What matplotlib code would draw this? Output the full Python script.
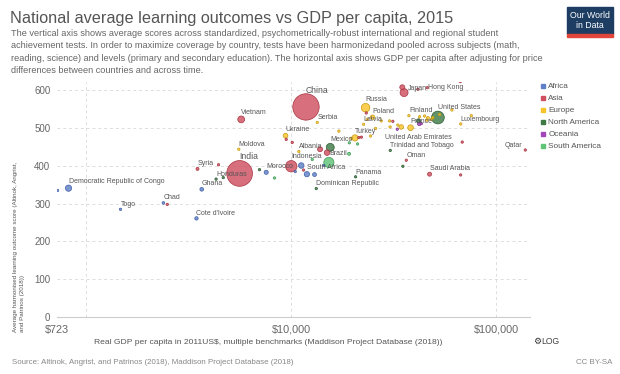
import numpy as np
import matplotlib.pyplot as plt
from matplotlib.patches import Rectangle
from matplotlib.colors import to_rgba

plt.rcParams['font.family'] = ['Liberation Sans', 'DejaVu Sans']

# values (GDP per capita, 2011US$; harmonised score; population, millions)
country = ["China", "India", "United States", "Indonesia", "Brazil", "Russia", "Japan", "Mexico",
           "Vietnam", "Democratic Republic of Congo", "Turkey", "France", "South Africa", "Ukraine",
           "Poland", "Morocco", "Saudi Arabia", "Ghana", "Cote d'Ivoire", "Syria", "Chad",
           "Dominican Republic", "Honduras", "United Arab Emirates", "Serbia", "Togo", "Hong Kong",
           "Finland", "Oman", "Panama", "Moldova", "Albania", "Qatar", "Latvia",
           "Trinidad and Tobago", "Luxembourg",
           "", "", "", "", "", "", "", "", "", "", "", "", "", "", "", "", "", "", "", "", "", "",
           "", "", "", "", "", "", "", "", "", "", "", "", "", "", "", "", "", "", "", "", "", "",
           "", "", "", ""]
region = ["Asia", "Asia", "North America", "Asia", "South America", "Europe", "Asia", "North America",
          "Asia", "Africa", "Europe", "Europe", "Africa", "Europe",
          "Europe", "Africa", "Asia", "Africa", "Africa", "Asia", "Africa",
          "North America", "North America", "Asia", "Europe", "Africa", "Asia",
          "Europe", "Asia", "North America", "Europe", "Europe", "Asia", "Europe",
          "North America", "Europe",
          "Africa", "Asia", "Asia", "North America", "North America", "South America", "Asia", "Asia",
          "South America", "Asia", "Asia", "South America", "South America", "South America",
          "Africa", "Africa", "Africa", "Africa", "Asia", "North America", "Asia", "Asia", "Asia",
          "Asia", "Asia", "Asia", "Asia",
          "Europe", "Europe", "Europe", "Europe", "Europe", "Europe", "Europe", "Europe", "Europe",
          "Europe", "Europe", "Europe", "Europe", "Europe", "Europe", "Europe", "Europe", "Europe",
          "Europe", "North America", "Oceania", "Oceania", "Oceania", "Asia"]
gdp = [11800, 5600, 51900, 10000, 15260, 23040, 35500, 15500,
       5700, 820, 20460, 38190, 11920, 9380,
       24930, 7550, 47270, 3660, 3450, 3490, 2380,
       13240, 4300, 68200, 13390, 1470, 46060,
       37480, 36390, 20600, 5550, 10890, 138500, 22530,
       30400, 67100,
       725, 2485, 4420, 4660, 7000, 8290, 9450, 10110,
       12660, 13820, 14950, 19140, 21060, 19200,
       11190, 12990, 10460, 14420, 11480, 35030, 67000, 34800, 41470,
       66740, 23220, 21370, 22000,
       27480, 30170, 33110, 34400, 42260, 44690, 46380, 45860, 49060,
       48190, 52900, 60740, 75510, 23480, 25780, 24370, 17070, 30340,
       19620, 41780, 42100, 43100, 32890, 31300]
score = [556, 380, 528, 399, 409, 554, 594, 449,
         523, 341, 474, 501, 378, 480,
         529, 383, 378, 338, 261, 392, 302,
         340, 365, 463, 515, 285, 607,
         533, 415, 371, 444, 438, 442, 510,
         441, 511,
         335, 298, 403, 369, 390, 368, 470, 462,
         417, 444, 435, 432, 458, 461,
         401, 377, 385, 401, 389, 399, 376, 608, 603,
         623, 540, 475, 476,
         519, 519, 508, 503, 530, 532, 527, 521, 528,
         523, 536, 548, 533, 523, 499, 479, 492, 503,
         473, 519, 511, 512, 497, 518]
population = [1380, 1310, 320, 258, 205, 144, 127, 125,
              92, 77, 78, 66, 55, 45,
              38, 34, 32, 27, 23, 18, 14,
              10.5, 9, 9, 7, 7, 7,
              5.5, 4, 4, 3.5, 2.9, 2.5, 2,
              1.4, 0.6,
              1, 1, 1, 6, 5, 1, 1, 1,
              3, 50, 60, 18, 3, 1,
              60, 30, 2, 6, 1, 1, 1, 50, 1,
              0.6, 2, 4, 3,
              2, 3, 10, 40, 5, 8, 17, 10, 5,
              9, 1, 5, 0.5, 10, 10, 2, 1, 5,
              1, 36, 24, 4.7, 1, 1]

regions = ["Africa", "Asia", "Europe", "North America", "Oceania", "South America"]
fill = {"Africa": "#5f7fc6", "Asia": "#cf4f61", "Europe": "#f9c42a",
        "North America": "#3f7a45", "Oceania": "#a347b8", "South America": "#5fc476"}
line = {"Africa": "#3e5ea5", "Asia": "#a8343f", "Europe": "#c99a10",
        "North America": "#2b5a30", "Oceania": "#7d2e90", "South America": "#3c9a54"}

W, H, DPI = 620, 374, 100
fig = plt.figure(figsize=(W / DPI, H / DPI), dpi=DPI)
fig.patch.set_facecolor('white')

ax = fig.add_axes([57.3 / W, 1 - 317 / H, (530 - 57.3) / W, (317 - 82) / H])
ax.set_xscale('log')
ax.set_xlim(723, 146000)
ax.set_ylim(0, 622)
for s in ['top', 'right', 'left']:
    ax.spines[s].set_visible(False)
ax.spines['bottom'].set_color('#cccccc')
ax.spines['bottom'].set_linewidth(0.8)

for v in [100, 200, 300, 400, 500, 600]:
    ax.axhline(v, color='#dddddd', lw=0.7, ls=(0, (3, 3)), zorder=0)
for v in [1000, 10000, 100000]:
    ax.axvline(v, color='#dddddd', lw=0.7, ls=(0, (3, 3)), zorder=0)

ax.set_yticks([0, 100, 200, 300, 400, 500, 600])
ax.set_xticks([723, 10000, 100000])
ax.set_xticklabels(['$723', '$10,000', '$100,000'])
ax.xaxis.set_minor_locator(plt.NullLocator())
ax.tick_params(axis='y', length=0, pad=5, labelsize=7, labelcolor='#666666')
ax.tick_params(axis='x', length=0, pad=5.5, labelsize=7.8, labelcolor='#666666')

pop = np.array(population, dtype=float)
radius = np.maximum(1.2, 13.3 * np.sqrt(pop / 1400))
order = np.argsort(-pop, kind='stable')
x = np.array(gdp, dtype=float)[order]
y = np.array(score, dtype=float)[order]
r = radius[order]
reg = [region[i] for i in order]
fc = [to_rgba(fill[g], 0.82) for g in reg]
ec = [line[g] for g in reg]
ax.scatter(x, y, s=(2 * r * 72 / DPI) ** 2, c=fc, edgecolors=ec, linewidths=0.5, zorder=3)

# label placement: above the dot by default, a few are shifted
special = {"United Arab Emirates": (-77, 5, 'left'), "Qatar": (-3, 5, 'right'),
           "Japan": (4, 4, 'left'), "Hong Kong": (1, 0, 'left')}
for i, name in enumerate(country):
    if not name:
        continue
    big = name in ("China", "India")
    if name in special:
        dx, dy, ha = special[name]
    else:
        dx, dy, ha = 0, radius[i] + 3.6, 'left'
    ax.annotate(name, (gdp[i], score[i]), xytext=(dx, dy), textcoords='offset pixels',
                ha=ha, va='center', fontsize=6.2 if big else 5, color='#555555', zorder=4)

# legend
for k, g in enumerate(regions):
    yy = 86.3 + 12 * k
    fig.patches.append(Rectangle((540.5 / W, 1 - (yy + 2) / H), 4 / W, 4 / H,
                                 transform=fig.transFigure, color=fill[g]))
    fig.text(548.3 / W, 1 - yy / H, g, fontsize=5.9, color='#555555', va='center', ha='left')

fig.text(10 / W, 1 - 23 / H, "National average learning outcomes vs GDP per capita, 2015",
         fontsize=11.7, color='#555555', ha='left', va='baseline')
sub = ["The vertical axis shows average scores across standardized, psychometrically-robust international and regional student",
       "achievement tests. In order to maximize coverage by country, tests have been harmonizedand pooled across subjects (math,",
       "reading, science) and levels (primary and secondary education). The horizontal axis shows GDP per capita after adjusting for price",
       "differences between countries and across time."]
for k, t in enumerate(sub):
    fig.text(11 / W, 1 - (36 + 12.3 * k) / H, t, fontsize=6.6, color='#666666', ha='left', va='baseline')

# logo
fig.patches.append(Rectangle((567 / W, 1 - 34 / H), 46 / W, 27 / H, transform=fig.transFigure,
                             color='#1d3d63'))
fig.patches.append(Rectangle((567 / W, 1 - 37 / H), 46 / W, 3 / H, transform=fig.transFigure,
                             color='#e0463a'))
fig.text(590 / W, 1 - 15 / H, "Our World", fontsize=6.3, color='white', ha='center', va='center')
fig.text(590 / W, 1 - 26 / H, "in Data", fontsize=6.3, color='white', ha='center', va='center')

fig.text(19 / W, 1 - 332 / H,
         "Average harmonised learning outcome score (Altinok, Angrist,\nand Patrinos (2018))",
         rotation=90, fontsize=4.5, color='#555555', ha='center', va='bottom',
         multialignment='left', linespacing=1.3)
fig.text(268.5 / W, 1 - 343 / H,
         "Real GDP per capita in 2011US$, multiple benchmarks (Maddison Project Database (2018))",
         fontsize=6.1, color='#555555', ha='center', va='center')
fig.text(533 / W, 1 - 341 / H, "\u2699", family='DejaVu Sans', fontsize=6.5, color='#333333',
         ha='left', va='center')
fig.text(541 / W, 1 - 341 / H, "LOG", fontsize=6.2, color='#444444', ha='left', va='center')
fig.text(11.7 / W, 1 - 362 / H,
         "Source: Altinok, Angrist, and Patrinos (2018), Maddison Project Database (2018)",
         fontsize=5.7, color='#888888', ha='left', va='center')
fig.text(612 / W, 1 - 362 / H, "CC BY-SA", fontsize=5.7, color='#888888', ha='right', va='center')

fig.savefig('out.png', dpi=DPI)
